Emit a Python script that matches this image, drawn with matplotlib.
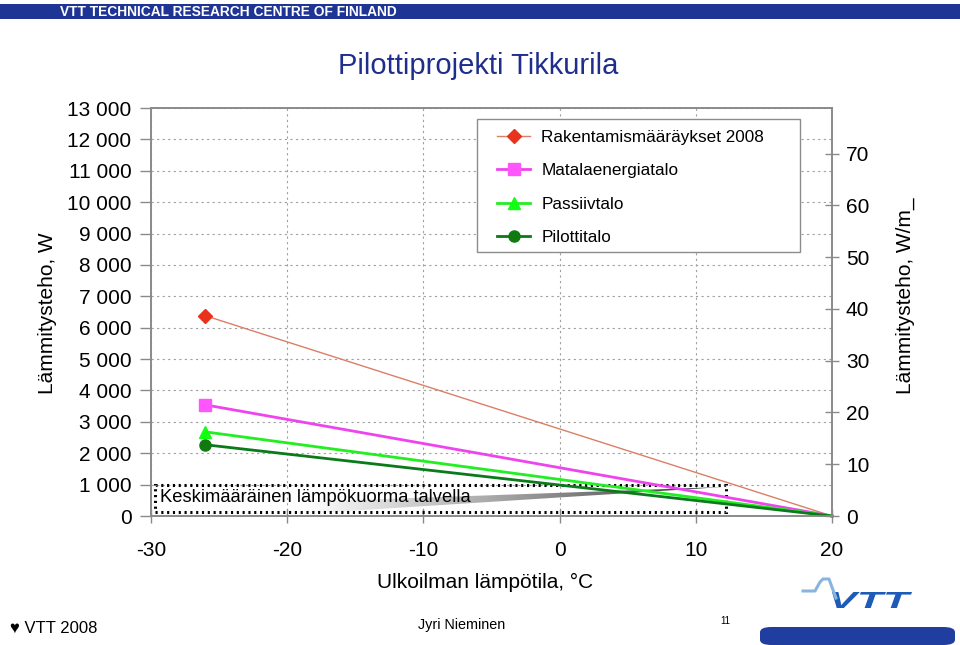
import numpy as np
import matplotlib
matplotlib.use('Agg')
import matplotlib.pyplot as plt
from matplotlib.patches import Rectangle, Polygon, FancyBboxPatch, PathPatch
from matplotlib.lines import Line2D
from matplotlib.textpath import TextPath
from matplotlib.font_manager import FontProperties
from matplotlib.transforms import Affine2D

plt.rcParams['font.family'] = ['Liberation Sans', 'DejaVu Sans']

# ---------------- data ----------------
temps = [-26, 20]
rakentamis_2008 = [6380, 0]
matalaenergia = [3540, 0]
passiivi = [2680, 0]
pilotti = [2270, 0]
series_names = ['Rakentamismääräykset 2008', 'Matalaenergiatalo', 'Passiivtalo', 'Pilottitalo']
x_ticks = [-30, -20, -10, 0, 10, 20]
y_ticks = list(range(0, 13001, 1000))
y_tick_labels = ['0' if v == 0 else f'{v // 1000} 000' for v in y_ticks]
right_ticks = [0, 10, 20, 30, 40, 50, 60, 70]
floor_area = 165  # m2, ratio W -> W/m2

W, H = 960, 645
fig = plt.figure(figsize=(W / 100, H / 100), dpi=100)


def fx(x):
    return x / W


def fy(y):
    return 1 - y / H


ax = fig.add_axes([fx(151), fy(516), 681 / W, 408 / H])
ax.set_xlim(-30, 20)
ax.set_ylim(0, 13000)

spine_c = '#8a8a8a'
for s in ax.spines.values():
    s.set_color(spine_c)
    s.set_linewidth(1.2)

ax.set_xticks(x_ticks)
ax.set_xticklabels([str(v) for v in x_ticks])
ax.set_yticks(y_ticks)
ax.set_yticklabels(y_tick_labels)
ax.tick_params(axis='y', direction='out', length=8, width=1, color=spine_c, pad=6, labelsize=15)
ax.tick_params(axis='x', direction='inout', length=10, width=1, color=spine_c, pad=13, labelsize=15)

ax.grid(True, which='major', color='#a0a0a0', linestyle=(0, (2, 3)), linewidth=0.8)
ax.set_axisbelow(True)

# right axis in W/m2
ax2 = ax.twinx()
ax2.set_ylim(0, 13000 / floor_area)
ax2.set_yticks(right_ticks)
ax2.set_yticklabels([str(v) for v in right_ticks])
ax2.tick_params(axis='y', direction='inout', length=10, width=1, color=spine_c, pad=5, labelsize=15)
for s in ax2.spines.values():
    s.set_color(spine_c)
    s.set_linewidth(1.2)

styles = [
    dict(color='#DA7F66', lw=1.0, marker='D', ms=7, mfc='#E8321C', mec='#E8321C'),
    dict(color='#EE44EE', lw=2.0, marker='s', ms=8, mfc='#FF55FF', mec='#FF55FF'),
    dict(color='#22EE22', lw=2.0, marker='^', ms=9, mfc='#11FF11', mec='#11FF11'),
    dict(color='#0A7A1A', lw=2.0, marker='o', ms=8, mfc='#107A10', mec='#107A10'),
]
series = [rakentamis_2008, matalaenergia, passiivi, pilotti]

# annotation: average winter load callout (drawn under the lines)
wedge = Polygon([(-19.0, 446), (12.0, 924), (-19.0, 64)], closed=True,
                facecolor='none', edgecolor='none')
ax.add_patch(wedge)
grad = np.linspace(1.0, 0.1, 256).reshape(1, -1) ** 0.8
im = ax.imshow(grad, cmap='gray', vmin=0, vmax=1, extent=(-19.0, 12.0, 64, 924),
               aspect='auto', zorder=2, interpolation='bilinear')
im.set_clip_path(wedge)
ax.set_xlim(-30, 20)
ax.set_ylim(0, 13000)

box = Rectangle((-29.7, 127), 41.9, 861, facecolor='none', edgecolor='black',
                linewidth=2.2, linestyle=(0, (0.7, 1.2)), zorder=3, clip_on=False)
ax.add_patch(box)
ax.text(-29.34, 574, 'Keskimääräinen lämpökuorma talvella', fontsize=13.2,
        ha='left', va='center', zorder=3)

for vals, st in zip(series, styles):
    ax.plot(temps, vals, markevery=[0], zorder=5, clip_on=False, **st)

# legend with manual frame
frame = Rectangle((fx(477), fy(252)), 323 / W, 133 / H, transform=fig.transFigure,
                  facecolor='white', edgecolor='#8c8c8c', linewidth=1.0, zorder=6)
ax2.add_patch(frame)
handles = [Line2D([0], [0], **st) for st in styles]
leg = ax2.legend(handles, series_names, loc='upper left', frameon=False,
                 bbox_to_anchor=(fx(497), fy(130)), bbox_transform=fig.transFigure,
                 fontsize=12.3, handlelength=1.95, handletextpad=0.65,
                 labelspacing=1.08, borderpad=0, borderaxespad=0)
leg.set_zorder(7)

# axis labels & title
fig.text(fx(478), fy(66), 'Pilottiprojekti Tikkurila', fontsize=21, color='#1F2E8C',
         ha='center', va='center')
fig.text(fx(485), fy(582), 'Ulkoilman lämpötila, °C', fontsize=15, ha='center', va='center')
fig.text(fx(48), fy(313), 'Lämmitysteho, W', fontsize=15, rotation=90, ha='center', va='center')
fig.text(fx(905), fy(296), 'Lämmitysteho, W/m_', fontsize=15, rotation=90, ha='center', va='center')

# header bar
fig.patches.append(Rectangle((0, fy(19)), 1, 15 / H, transform=fig.transFigure,
                             facecolor='#1E3596', edgecolor='none', zorder=0))
fig.text(fx(60), fy(11.5), 'VTT TECHNICAL RESEARCH CENTRE OF FINLAND', color='white',
         fontweight='bold', fontsize=9.9, ha='left', va='center')

# footer
fig.text(fx(10), fy(628), '♥ VTT 2008', fontsize=12, ha='left', va='center')
fig.text(fx(462), fy(625), 'Jyri Nieminen', fontsize=10.4, ha='center', va='center')
fig.text(fx(725), fy(621), '11', fontsize=7, ha='center', va='center')

# logo
wave_x = [803, 815, 820, 823, 829, 833, 836]
wave_y = [591, 591, 582, 579, 579, 590, 598]
fig.lines.append(Line2D([fx(v) for v in wave_x], [fy(v) for v in wave_y],
                        transform=fig.transFigure, color='#8AB4E0', lw=2.2))
tp = TextPath((0, 0), 'VTT', prop=FontProperties(family='Liberation Sans', weight='bold', style='italic'), size=10)
ext = tp.get_extents()
sx = (80 / W) / ext.width
sy = (16 / H) / ext.height
tr = Affine2D().translate(-ext.x0, -ext.y0).scale(sx, sy).translate(fx(832), fy(608)) + fig.transFigure
fig.patches.append(PathPatch(tp, transform=tr, facecolor='#1D5BB8', edgecolor='none'))
fig.patches.append(FancyBboxPatch((fx(760), fy(645)), 195 / W, 18 / H,
                                  boxstyle='round,pad=0,rounding_size=0.012',
                                  transform=fig.transFigure, facecolor='#1F3EA0',
                                  edgecolor='none', mutation_aspect=0.67))

fig.savefig('out.png', dpi=100)
